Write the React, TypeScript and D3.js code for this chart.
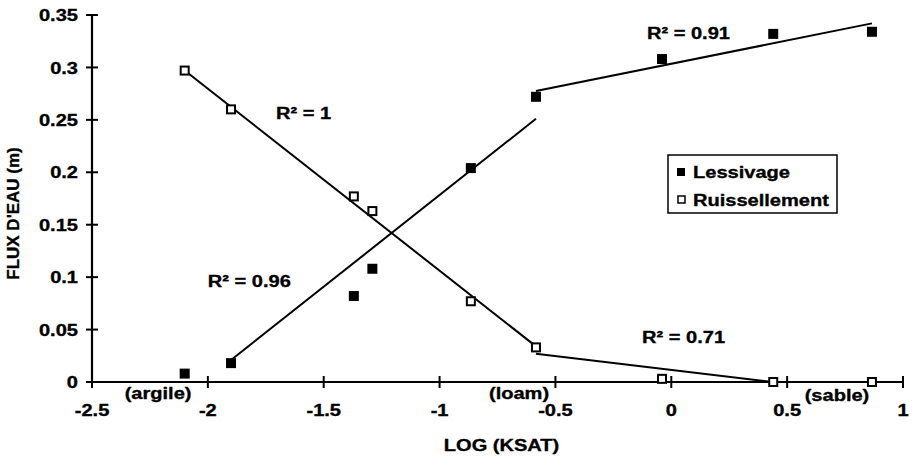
import React from "react";
import * as d3 from "d3";

const ksat = [-2.1, -1.9, -1.37, -1.29, -0.865, -0.584, -0.04, 0.44, 0.866];
const lessivage = [0.008, 0.018, 0.082, 0.108, 0.204, 0.272, 0.308, 0.332, 0.334];
const ruissellement = [0.297, 0.26, 0.177, 0.163, 0.077, 0.033, 0.003, 0.0, 0.0];

const xTicks = [-2.5, -2, -1.5, -1, -0.5, 0, 0.5, 1];
const yTicks = [0, 0.05, 0.1, 0.15, 0.2, 0.25, 0.3, 0.35];

// trend segments: [x0, y0, x1, y1]
const trendLessivage: [number, number, number, number][] = [
  [-1.9, 0.021, -0.584, 0.251],
  [-0.584, 0.2775, 0.866, 0.342],
];
const trendRuissellement: [number, number, number, number][] = [
  [-2.1, 0.297, -0.584, 0.034],
  [-0.584, 0.027, 0.439, 0.0],
];

const r2Labels = ["R² = 1", "R² = 0.96", "R² = 0.91", "R² = 0.71"];
const r2X = [-1.706, -2.0, -0.105, -0.126];
const r2Y = [0.2565, 0.0963, 0.333, 0.0429];

const soilLabels = ["(argile)", "(loam)", "(sable)"];
const soilX = [-2.215, -0.657, 0.715];
const soilY = [-0.0105, -0.0105, -0.0125];

const legendLabels = ["Lessivage", "Ruissellement"];

const FONT = "'Liberation Sans', Arial, Helvetica, sans-serif";
const FS = 17;
const SX = 1.18;

function T({ x, y, anchor = "start", children, size = FS }: any) {
  return (
    <g transform={`translate(${x},${y}) scale(${SX},1)`}>
      <text
        x={0}
        y={0}
        dy="0.36em"
        textAnchor={anchor}
        fontFamily={FONT}
        fontWeight="bold"
        fontSize={size}
        fill="#000"
        stroke="#000"
        strokeWidth={0.35}
      >
        {children}
      </text>
    </g>
  );
}

const fmt = (t: number) => String(t);

export default function App() {
  const W = 913;
  const H = 457;
  const x = d3.scaleLinear().domain([-2.5, 1]).range([92, 903]);
  const y = d3.scaleLinear().domain([0, 0.35]).range([382, 15]);
  const line = d3
    .line<[number, number]>()
    .x((d) => x(d[0]))
    .y((d) => y(d[1]));
  const sq = 10;

  return (
    <svg
      width={W}
      height={H}
      style={{ position: "absolute", left: 0, top: 0, background: "#fff" }}
    >
      <rect width={W} height={H} fill="#fff" />
      {/* axes */}
      <line x1={x(-2.5)} x2={x(-2.5)} y1={y(0.35)} y2={y(0)} stroke="#000" strokeWidth={2.2} />
      <line x1={x(-2.5)} x2={x(1)} y1={y(0)} y2={y(0)} stroke="#000" strokeWidth={2.2} />
      {yTicks.map((t) => (
        <g key={"yt" + t}>
          <line x1={x(-2.5) - 6} x2={x(-2.5) + 6} y1={y(t)} y2={y(t)} stroke="#000" strokeWidth={2} />
          <T x={78} y={y(t)} anchor="end">
            {fmt(t)}
          </T>
        </g>
      ))}
      {xTicks.map((t) => (
        <g key={"xt" + t}>
          <line x1={x(t)} x2={x(t)} y1={y(0) - 6} y2={y(0) + 6} stroke="#000" strokeWidth={2} />
          <T x={x(t)} y={410} anchor="middle">
            {fmt(t)}
          </T>
        </g>
      ))}
      {/* axis titles */}
      <T x={(x(-2.5) + x(1)) / 2 + 4} y={445} anchor="middle">
        LOG (KSAT)
      </T>
      <g transform={`translate(13,${(y(0) + y(0.35)) / 2 + 15}) rotate(-90)`}>
        <text
          dy="0.36em"
          textAnchor="middle"
          fontFamily={FONT}
          fontWeight="bold"
          fontSize={FS}
          fill="#000"
          stroke="#000"
          strokeWidth={0.35}
        >
          FLUX D'EAU (m)
        </text>
      </g>
      {/* trend lines */}
      {trendLessivage.concat(trendRuissellement).map((s, i) => (
        <path
          key={"tr" + i}
          d={line([
            [s[0], s[1]],
            [s[2], s[3]],
          ]) as string}
          fill="none"
          stroke="#000"
          strokeWidth={2}
        />
      ))}
      {/* points */}
      {ksat.map((k, i) => (
        <rect
          key={"l" + i}
          x={x(k) - sq / 2}
          y={y(lessivage[i]) - sq / 2}
          width={sq}
          height={sq}
          fill="#000"
        />
      ))}
      {ksat.map((k, i) => (
        <rect
          key={"r" + i}
          x={x(k) - (sq - 2) / 2}
          y={y(ruissellement[i]) - (sq - 2) / 2}
          width={sq - 2}
          height={sq - 2}
          fill="#fff"
          stroke="#000"
          strokeWidth={2}
        />
      ))}
      {/* annotations */}
      {r2Labels.map((l, i) => (
        <T key={"r2" + i} x={x(r2X[i])} y={y(r2Y[i])}>
          {l}
        </T>
      ))}
      {soilLabels.map((l, i) => (
        <T key={"s" + i} x={x(soilX[i])} y={y(soilY[i])} anchor="middle">
          {l}
        </T>
      ))}
      {/* legend */}
      <rect x={668} y={155} width={169} height={58} fill="#fff" stroke="#000" strokeWidth={1.5} />
      <rect x={677} y={168} width={8} height={8} fill="#000" />
      <rect x={678} y={196} width={7} height={7} fill="#fff" stroke="#000" strokeWidth={1.5} />
      <T x={693} y={172}>
        {legendLabels[0]}
      </T>
      <T x={693} y={200}>
        {legendLabels[1]}
      </T>
    </svg>
  );
}
